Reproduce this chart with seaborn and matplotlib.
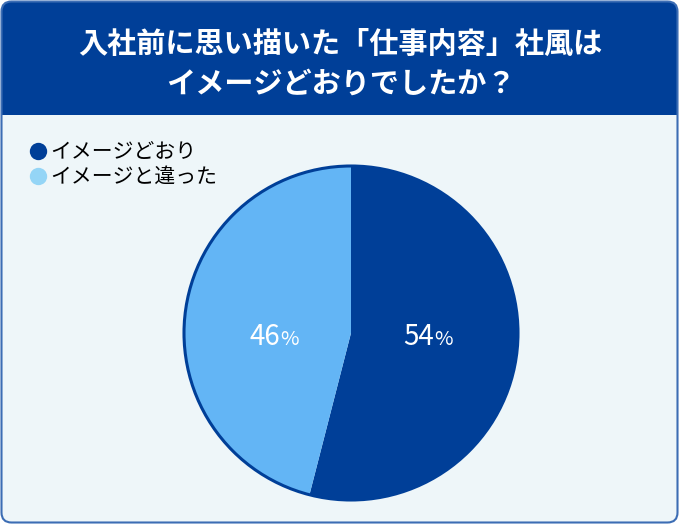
import numpy as np
import matplotlib
matplotlib.use("Agg")
import matplotlib.pyplot as plt
import seaborn as sns
from matplotlib.patches import FancyBboxPatch, Rectangle
from matplotlib.lines import Line2D

# data
labels = ["イメージどおり", "イメージと違った"]
values = [54, 46]
title_lines = ["入社前に思い描いた「仕事内容」社風は", "イメージどおりでしたか？"]

slice_colors = ["#003f98", "#63b5f5"]
legend_colors = ["#003f98", "#94d5f6"]
header_color = "#003f98"
body_color = "#eef6f9"
border_color = "#3c6db4"

sns.set_theme(style="white")
plt.rcParams['font.family'] = ['Noto Sans CJK JP', 'DejaVu Sans']

W, H = 679, 524
fig = plt.figure(figsize=(W / 100, H / 100), dpi=100)
fig.patch.set_facecolor("white")

# card background
bg = fig.add_axes([0, 0, 1, 1])
bg.set_xlim(0, W)
bg.set_ylim(H, 0)
bg.axis("off")
card = FancyBboxPatch((1.5, 1.5), W - 3, H - 3, boxstyle="round,pad=0,rounding_size=10",
                      facecolor=body_color, edgecolor="none")
bg.add_patch(card)
header = Rectangle((0, 0), W, 115, facecolor=header_color, edgecolor="none")
bg.add_patch(header)
header.set_clip_path(card)
outline = FancyBboxPatch((1.5, 1.5), W - 3, H - 3, boxstyle="round,pad=0,rounding_size=10",
                         facecolor="none", edgecolor=border_color, linewidth=1.5)
bg.add_patch(outline)

bg.text(W / 2 + 1, 44, title_lines[0], color="white", fontsize=21, fontweight="bold",
        ha="center", va="center")
bg.text(W / 2 + 1, 84, title_lines[1], color="white", fontsize=21, fontweight="bold",
        ha="center", va="center")

# pie (radius 167 px, axes padded 2%)
cx, cy, r = 351, 333, 167 * 1.02
ax = fig.add_axes([(cx - r) / W, (H - cy - r) / H, 2 * r / W, 2 * r / H])
wedges, _ = ax.pie(values, colors=slice_colors, startangle=90, counterclock=False,
                   wedgeprops=dict(linewidth=0))
ax.add_patch(plt.Circle((0, 0), 1, fill=False, edgecolor=header_color, linewidth=2.2))
ax.set_xlim(-1.02, 1.02)
ax.set_ylim(-1.02, 1.02)
ax.set_aspect("equal")
ax.axis("off")

total = sum(values)
start = 90
for v in values:
    mid = np.deg2rad(start - v / total * 360 / 2)
    start -= v / total * 360
    x = 0.465 * np.cos(mid) + 0.035
    ax.text(x, -0.072, f"{v}", color="white", fontsize=20,
            ha="right", va="baseline")
    ax.text(x, -0.072, "%", color="white", fontsize=14.5,
            ha="left", va="baseline")

handles = [Line2D([], [], marker="o", linestyle="none", markersize=12.5,
                  markerfacecolor=c, markeredgecolor="none") for c in legend_colors]
leg = fig.legend(handles, labels, loc="upper left", bbox_to_anchor=(27 / W, 1 - 141 / H),
                 frameon=False, fontsize=15, handletextpad=0.0, handlelength=1.1,
                 labelspacing=0.15, borderaxespad=0, borderpad=0)
for t in leg.get_texts():
    t.set_color("black")

fig.savefig("out.png", dpi=100, facecolor="white")
